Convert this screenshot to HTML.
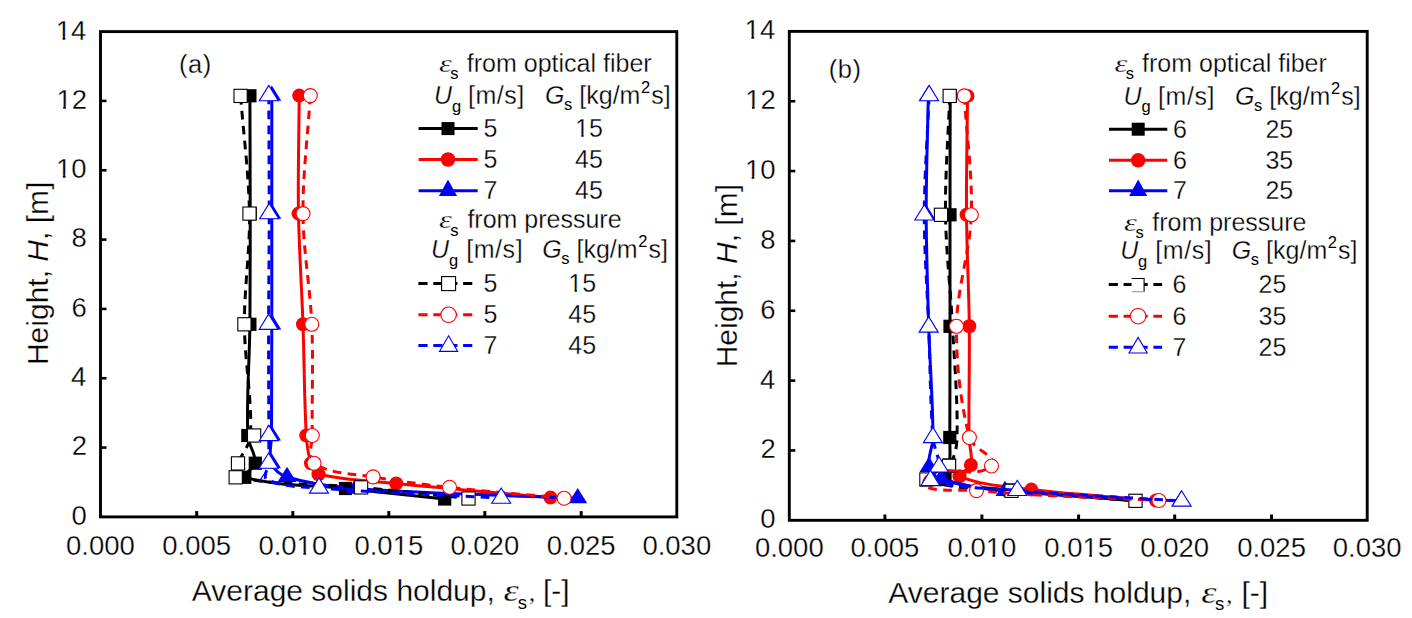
<!DOCTYPE html>
<html><head><meta charset="utf-8"><title>Solids holdup</title>
<style>html,body{margin:0;padding:0;background:#fff;}svg{display:block;}</style></head>
<body>
<svg width="1412" height="618" viewBox="0 0 1412 618" font-family='"Liberation Sans", sans-serif' fill="#000">
<rect width="1412" height="618" fill="#fff"/>
<style>text{stroke:#fff;stroke-width:0.3;}text.n{stroke:none;}</style>
<path d="M249.9,95.8 C250.0,135.1 250.2,174.3 250.2,213.6 C250.2,250.5 250.3,287.4 249.9,324.3 C249.5,361.4 246.4,398.5 247.8,435.5 C248.2,445.1 256.0,453.7 255.3,463.2 C254.9,469.0 239.2,475.7 244.8,477.3 C277.3,486.4 311.9,484.9 345.5,488.5 C378.6,492.1 411.6,495.5 444.7,499.0" fill="none" stroke="#000" stroke-width="3" stroke-linejoin="round"/>
<rect x="243.30" y="89.20" width="13.2" height="13.2" fill="#000"/>
<rect x="243.60" y="207.00" width="13.2" height="13.2" fill="#000"/>
<rect x="243.30" y="317.70" width="13.2" height="13.2" fill="#000"/>
<rect x="241.20" y="428.90" width="13.2" height="13.2" fill="#000"/>
<rect x="248.70" y="456.60" width="13.2" height="13.2" fill="#000"/>
<rect x="238.20" y="470.70" width="13.2" height="13.2" fill="#000"/>
<rect x="338.90" y="481.90" width="13.2" height="13.2" fill="#000"/>
<rect x="438.10" y="492.40" width="13.2" height="13.2" fill="#000"/>
<path d="M299.2,95.6 C299.0,134.9 297.8,174.3 298.5,213.6 C299.1,250.5 301.7,287.4 303.0,324.3 C304.3,361.4 304.2,398.5 306.3,435.5 C306.8,444.8 308.2,454.3 311.0,463.2 C312.3,467.5 314.2,473.3 318.5,474.3 C343.9,480.3 370.2,480.9 396.2,483.5 C447.6,488.7 499.1,492.9 550.5,497.6" fill="none" stroke="#f00" stroke-width="3" stroke-linejoin="round"/>
<circle cx="299.20" cy="95.60" r="7.0" fill="#f00"/>
<circle cx="298.50" cy="213.60" r="7.0" fill="#f00"/>
<circle cx="303.00" cy="324.30" r="7.0" fill="#f00"/>
<circle cx="306.30" cy="435.50" r="7.0" fill="#f00"/>
<circle cx="311.00" cy="463.20" r="7.0" fill="#f00"/>
<circle cx="318.50" cy="474.30" r="7.0" fill="#f00"/>
<circle cx="396.20" cy="483.50" r="7.0" fill="#f00"/>
<circle cx="550.50" cy="497.60" r="7.0" fill="#f00"/>
<path d="M271.8,95.6 C271.8,134.9 271.8,174.3 271.8,213.6 C271.8,250.5 271.8,287.4 271.8,324.3 C271.7,361.4 271.6,398.4 271.5,435.5 C271.5,444.7 268.3,454.6 271.5,463.2 C273.9,469.7 280.4,475.0 287.0,477.0 C309.2,483.7 332.4,486.9 355.5,488.6 C429.4,494.0 503.6,495.0 577.7,498.2" fill="none" stroke="#00f" stroke-width="3" stroke-linejoin="round"/>
<polygon points="271.80,85.40 281.30,100.70 262.30,100.70" fill="#00f"/>
<polygon points="271.80,203.40 281.30,218.70 262.30,218.70" fill="#00f"/>
<polygon points="271.80,314.10 281.30,329.40 262.30,329.40" fill="#00f"/>
<polygon points="271.50,425.30 281.00,440.60 262.00,440.60" fill="#00f"/>
<polygon points="271.50,453.00 281.00,468.30 262.00,468.30" fill="#00f"/>
<polygon points="287.00,466.80 296.50,482.10 277.50,482.10" fill="#00f"/>
<polygon points="355.50,478.40 365.00,493.70 346.00,493.70" fill="#00f"/>
<polygon points="577.70,488.00 587.20,503.30 568.20,503.30" fill="#00f"/>
<path d="M240.6,95.9 C243.6,135.1 248.8,174.3 249.5,213.6 C250.1,250.5 244.2,287.4 244.4,324.3 C244.6,361.4 252.2,398.4 250.5,435.5 C250.0,445.7 241.4,453.8 238.0,463.4 C236.4,467.8 231.1,476.4 235.7,477.3 C276.9,485.3 319.3,483.6 361.1,487.4 C396.9,490.7 432.7,494.8 468.5,498.5" fill="none" stroke="#000" stroke-width="3" stroke-linejoin="round" stroke-dasharray="8.7 6.3"/>
<rect x="234.00" y="89.30" width="13.2" height="13.2" fill="#fff" stroke="#000" stroke-width="1.1"/>
<rect x="242.90" y="207.00" width="13.2" height="13.2" fill="#fff" stroke="#000" stroke-width="1.1"/>
<rect x="237.80" y="317.70" width="13.2" height="13.2" fill="#fff" stroke="#000" stroke-width="1.1"/>
<rect x="247.50" y="428.90" width="13.2" height="13.2" fill="#fff" stroke="#000" stroke-width="1.1"/>
<rect x="231.40" y="456.80" width="13.2" height="13.2" fill="#fff" stroke="#000" stroke-width="1.1"/>
<rect x="229.10" y="470.70" width="13.2" height="13.2" fill="#fff" stroke="#000" stroke-width="1.1"/>
<rect x="354.50" y="480.80" width="13.2" height="13.2" fill="#fff" stroke="#000" stroke-width="1.1"/>
<rect x="461.90" y="491.90" width="13.2" height="13.2" fill="#fff" stroke="#000" stroke-width="1.1"/>
<path d="M310.3,95.6 C307.9,134.9 302.7,174.2 303.0,213.6 C303.2,250.6 310.2,287.3 311.8,324.3 C313.4,361.3 311.7,398.4 312.3,435.5 C312.4,444.7 306.4,458.0 314.0,463.2 C330.7,474.6 353.2,473.4 373.1,476.9 C398.4,481.4 424.0,484.5 449.5,487.3 C487.6,491.6 525.9,494.6 564.1,498.2" fill="none" stroke="#f00" stroke-width="3" stroke-linejoin="round" stroke-dasharray="8.7 6.3"/>
<circle cx="310.30" cy="95.60" r="7.0" fill="#fff" stroke="#f00" stroke-width="1.1"/>
<circle cx="303.00" cy="213.60" r="7.0" fill="#fff" stroke="#f00" stroke-width="1.1"/>
<circle cx="311.80" cy="324.30" r="7.0" fill="#fff" stroke="#f00" stroke-width="1.1"/>
<circle cx="312.30" cy="435.50" r="7.0" fill="#fff" stroke="#f00" stroke-width="1.1"/>
<circle cx="314.00" cy="463.20" r="7.0" fill="#fff" stroke="#f00" stroke-width="1.1"/>
<circle cx="373.10" cy="476.90" r="7.0" fill="#fff" stroke="#f00" stroke-width="1.1"/>
<circle cx="449.50" cy="487.30" r="7.0" fill="#fff" stroke="#f00" stroke-width="1.1"/>
<circle cx="564.10" cy="498.20" r="7.0" fill="#fff" stroke="#f00" stroke-width="1.1"/>
<path d="M268.8,95.6 C268.9,134.9 269.2,174.3 269.2,213.6 C269.2,250.5 268.7,287.4 268.6,324.3 C268.5,361.4 268.8,398.4 268.8,435.5 C268.8,444.7 269.0,454.0 268.6,463.2 C268.4,468.7 262.1,477.1 267.0,479.5 C282.8,487.3 301.5,486.6 319.0,488.0 C379.6,492.8 440.5,494.8 501.2,498.2" fill="none" stroke="#00f" stroke-width="3" stroke-linejoin="round" stroke-dasharray="8.7 6.3"/>
<polygon points="268.80,85.40 278.30,100.70 259.30,100.70" fill="#fff" stroke="#00f" stroke-width="1.1"/>
<polygon points="269.20,203.40 278.70,218.70 259.70,218.70" fill="#fff" stroke="#00f" stroke-width="1.1"/>
<polygon points="268.60,314.10 278.10,329.40 259.10,329.40" fill="#fff" stroke="#00f" stroke-width="1.1"/>
<polygon points="268.80,425.30 278.30,440.60 259.30,440.60" fill="#fff" stroke="#00f" stroke-width="1.1"/>
<polygon points="268.60,453.00 278.10,468.30 259.10,468.30" fill="#fff" stroke="#00f" stroke-width="1.1"/>
<polygon points="319.00,477.80 328.50,493.10 309.50,493.10" fill="#fff" stroke="#00f" stroke-width="1.1"/>
<polygon points="501.20,488.00 510.70,503.30 491.70,503.30" fill="#fff" stroke="#00f" stroke-width="1.1"/>
<path d="M266.6,470.2 L258.6,482.4" stroke="#00f" stroke-width="1.1" fill="none"/>
<path d="M950.2,95.9 C950.1,135.5 950.0,175.2 950.0,214.8 C950.0,252.0 950.0,289.1 950.0,326.3 C950.0,363.4 949.9,400.4 949.8,437.5 C949.8,446.7 950.5,455.9 949.5,465.0 C948.9,470.0 940.3,477.6 945.0,479.5 C965.3,487.9 988.2,487.6 1010.0,490.0 C1051.7,494.7 1093.7,497.2 1135.5,500.8" fill="none" stroke="#000" stroke-width="3" stroke-linejoin="round"/>
<rect x="943.60" y="89.30" width="13.2" height="13.2" fill="#000"/>
<rect x="943.40" y="208.20" width="13.2" height="13.2" fill="#000"/>
<rect x="943.40" y="319.70" width="13.2" height="13.2" fill="#000"/>
<rect x="943.20" y="430.90" width="13.2" height="13.2" fill="#000"/>
<rect x="942.90" y="458.40" width="13.2" height="13.2" fill="#000"/>
<rect x="938.40" y="472.90" width="13.2" height="13.2" fill="#000"/>
<rect x="1003.40" y="483.40" width="13.2" height="13.2" fill="#000"/>
<rect x="1128.90" y="494.20" width="13.2" height="13.2" fill="#000"/>
<path d="M967.5,95.9 C967.2,135.5 966.2,175.2 966.5,214.8 C966.8,252.0 968.9,289.1 969.3,326.3 C969.7,363.4 968.6,400.4 969.0,437.5 C969.1,446.7 973.1,456.1 970.9,465.0 C969.6,470.2 954.5,474.3 959.5,476.3 C982.0,485.5 1007.1,486.6 1031.3,489.6 C1072.7,494.7 1114.4,496.9 1156.0,500.5" fill="none" stroke="#f00" stroke-width="3" stroke-linejoin="round"/>
<circle cx="967.50" cy="95.90" r="7.0" fill="#f00"/>
<circle cx="966.50" cy="214.80" r="7.0" fill="#f00"/>
<circle cx="969.30" cy="326.30" r="7.0" fill="#f00"/>
<circle cx="969.00" cy="437.50" r="7.0" fill="#f00"/>
<circle cx="970.90" cy="465.00" r="7.0" fill="#f00"/>
<circle cx="959.50" cy="476.30" r="7.0" fill="#f00"/>
<circle cx="1031.30" cy="489.60" r="7.0" fill="#f00"/>
<circle cx="1156.00" cy="500.50" r="7.0" fill="#f00"/>
<path d="M928.3,95.9 C927.6,135.5 926.1,175.2 926.2,214.8 C926.3,252.0 927.6,289.1 928.7,326.3 C929.8,363.4 932.9,400.4 933.0,437.5 C933.0,447.4 927.1,457.3 929.0,467.0 C930.1,472.6 935.6,477.3 941.0,479.0 C961.7,485.5 983.4,489.0 1005.0,491.0 C1063.5,496.4 1122.3,497.7 1181.0,501.0" fill="none" stroke="#00f" stroke-width="3" stroke-linejoin="round"/>
<polygon points="928.30,85.70 937.80,101.00 918.80,101.00" fill="#00f"/>
<polygon points="926.20,204.60 935.70,219.90 916.70,219.90" fill="#00f"/>
<polygon points="928.70,316.10 938.20,331.40 919.20,331.40" fill="#00f"/>
<polygon points="933.00,427.30 942.50,442.60 923.50,442.60" fill="#00f"/>
<polygon points="929.00,456.80 938.50,472.10 919.50,472.10" fill="#00f"/>
<polygon points="941.00,468.80 950.50,484.10 931.50,484.10" fill="#00f"/>
<polygon points="1005.00,480.80 1014.50,496.10 995.50,496.10" fill="#00f"/>
<polygon points="1181.00,490.80 1190.50,506.10 1171.50,506.10" fill="#00f"/>
<path d="M949.7,95.9 C948.3,135.5 945.0,175.1 945.5,214.8 C946.0,252.0 950.6,289.1 952.5,326.3 C954.4,363.3 957.9,400.4 957.0,437.5 C956.8,447.3 954.8,457.9 949.0,465.8 C943.8,472.9 918.2,476.2 926.4,479.5 C953.0,490.1 983.0,487.9 1011.5,490.8 C1052.8,495.0 1094.2,497.5 1135.5,500.8" fill="none" stroke="#000" stroke-width="3" stroke-linejoin="round" stroke-dasharray="8.7 6.3"/>
<rect x="943.10" y="89.30" width="13.2" height="13.2" fill="#fff" stroke="#000" stroke-width="1.1"/>
<rect x="934.40" y="208.20" width="13.2" height="13.2" fill="#fff" stroke="#000" stroke-width="1.1"/>
<rect x="942.40" y="459.20" width="13.2" height="13.2" fill="#fff" stroke="#000" stroke-width="1.1"/>
<rect x="919.80" y="472.90" width="13.2" height="13.2" fill="#fff" stroke="#000" stroke-width="1.1"/>
<rect x="1004.90" y="484.20" width="13.2" height="13.2" fill="#fff" stroke="#000" stroke-width="1.1"/>
<rect x="1128.90" y="494.20" width="13.2" height="13.2" fill="#fff" stroke="#000" stroke-width="1.1"/>
<path d="M964.3,95.9 C966.6,135.5 972.6,175.1 971.3,214.8 C970.0,252.3 956.8,288.8 956.5,326.3 C956.2,363.6 960.3,401.3 969.4,437.5 C972.3,449.2 1000.3,457.8 991.5,466.0 C975.0,481.4 936.8,459.7 925.0,479.0 C915.8,494.0 959.0,489.0 976.5,490.6 C1037.2,496.2 1098.2,497.2 1159.0,500.5" fill="none" stroke="#f00" stroke-width="3" stroke-linejoin="round" stroke-dasharray="8.7 6.3"/>
<circle cx="964.30" cy="95.90" r="7.0" fill="#fff" stroke="#f00" stroke-width="1.1"/>
<circle cx="971.30" cy="214.80" r="7.0" fill="#fff" stroke="#f00" stroke-width="1.1"/>
<circle cx="956.50" cy="326.30" r="7.0" fill="#fff" stroke="#f00" stroke-width="1.1"/>
<circle cx="969.40" cy="437.50" r="7.0" fill="#fff" stroke="#f00" stroke-width="1.1"/>
<circle cx="991.50" cy="466.00" r="7.0" fill="#fff" stroke="#f00" stroke-width="1.1"/>
<circle cx="976.50" cy="490.60" r="7.0" fill="#fff" stroke="#f00" stroke-width="1.1"/>
<circle cx="1159.00" cy="500.50" r="7.0" fill="#fff" stroke="#f00" stroke-width="1.1"/>
<path d="M929.1,95.6 C927.5,135.4 924.4,175.1 924.3,214.9 C924.2,252.3 927.3,289.6 928.7,327.0 C930.1,363.8 930.2,400.7 932.9,437.5 C933.6,447.5 939.6,457.0 939.0,467.0 C938.7,472.3 925.3,479.0 930.4,480.5 C958.3,488.8 988.2,488.0 1017.3,490.4 C1072.0,494.9 1126.8,497.5 1181.6,501.0" fill="none" stroke="#00f" stroke-width="3" stroke-linejoin="round" stroke-dasharray="8.7 6.3"/>
<polygon points="929.10,85.40 938.60,100.70 919.60,100.70" fill="#fff" stroke="#00f" stroke-width="1.1"/>
<polygon points="924.30,204.70 933.80,220.00 914.80,220.00" fill="#fff" stroke="#00f" stroke-width="1.1"/>
<polygon points="928.70,316.80 938.20,332.10 919.20,332.10" fill="#fff" stroke="#00f" stroke-width="1.1"/>
<polygon points="932.90,427.30 942.40,442.60 923.40,442.60" fill="#fff" stroke="#00f" stroke-width="1.1"/>
<polygon points="939.00,456.80 948.50,472.10 929.50,472.10" fill="#fff" stroke="#00f" stroke-width="1.1"/>
<polygon points="930.40,470.30 939.90,485.60 920.90,485.60" fill="#fff" stroke="#00f" stroke-width="1.1"/>
<polygon points="1017.30,480.20 1026.80,495.50 1007.80,495.50" fill="#fff" stroke="#00f" stroke-width="1.1"/>
<polygon points="1181.60,490.80 1191.10,506.10 1172.10,506.10" fill="#fff" stroke="#00f" stroke-width="1.1"/>
<rect x="100.5" y="31.6" width="576.30" height="485.30" fill="none" stroke="#000" stroke-width="2.9"/>
<line x1="196.70" y1="516.90" x2="196.70" y2="511.10" stroke="#000" stroke-width="3"/>
<line x1="292.80" y1="516.90" x2="292.80" y2="511.10" stroke="#000" stroke-width="3"/>
<line x1="388.80" y1="516.90" x2="388.80" y2="511.10" stroke="#000" stroke-width="3"/>
<line x1="484.80" y1="516.90" x2="484.80" y2="511.10" stroke="#000" stroke-width="3"/>
<line x1="581.20" y1="516.90" x2="581.20" y2="511.10" stroke="#000" stroke-width="3"/>
<line x1="100.50" y1="447.57" x2="106.50" y2="447.57" stroke="#000" stroke-width="2.6"/>
<line x1="100.50" y1="378.24" x2="106.50" y2="378.24" stroke="#000" stroke-width="2.6"/>
<line x1="100.50" y1="308.91" x2="106.50" y2="308.91" stroke="#000" stroke-width="2.6"/>
<line x1="100.50" y1="239.59" x2="106.50" y2="239.59" stroke="#000" stroke-width="2.6"/>
<line x1="100.50" y1="170.26" x2="106.50" y2="170.26" stroke="#000" stroke-width="2.6"/>
<line x1="100.50" y1="100.93" x2="106.50" y2="100.93" stroke="#000" stroke-width="2.6"/>
<text x="66.09" y="554.60" font-size="27.5">0.000</text>
<text x="162.33" y="554.60" font-size="27.5">0.005</text>
<text x="258.39" y="554.60" font-size="27.5">0.010</text>
<rect x="297.91" y="551.65" width="5.47" height="3.65" fill="#fff"/>
<rect x="306.12" y="551.65" width="5.26" height="3.65" fill="#fff"/>
<text x="354.43" y="554.60" font-size="27.5">0.015</text>
<rect x="393.96" y="551.65" width="5.47" height="3.65" fill="#fff"/>
<rect x="402.16" y="551.65" width="5.26" height="3.65" fill="#fff"/>
<text x="450.39" y="554.60" font-size="27.5">0.020</text>
<text x="546.83" y="554.60" font-size="27.5">0.025</text>
<text x="642.39" y="554.60" font-size="27.5">0.030</text>
<text x="71.38" y="524.80" font-size="27.5">0</text>
<text x="71.69" y="455.47" font-size="27.5">2</text>
<text x="71.11" y="386.14" font-size="27.5">4</text>
<text x="71.51" y="316.81" font-size="27.5">6</text>
<text x="71.50" y="247.49" font-size="27.5">8</text>
<text x="56.09" y="178.16" font-size="27.5">10</text>
<rect x="57.38" y="175.20" width="5.47" height="3.65" fill="#fff"/>
<rect x="65.58" y="175.20" width="5.26" height="3.65" fill="#fff"/>
<text x="56.39" y="108.83" font-size="27.5">12</text>
<rect x="57.69" y="105.87" width="5.47" height="3.65" fill="#fff"/>
<rect x="65.89" y="105.87" width="5.26" height="3.65" fill="#fff"/>
<text x="55.82" y="39.50" font-size="27.5">14</text>
<rect x="57.11" y="36.55" width="5.47" height="3.65" fill="#fff"/>
<rect x="65.31" y="36.55" width="5.26" height="3.65" fill="#fff"/>
<rect x="789.3" y="31.4" width="577.90" height="488.90" fill="none" stroke="#000" stroke-width="2.9"/>
<line x1="884.90" y1="520.30" x2="884.90" y2="514.50" stroke="#000" stroke-width="3"/>
<line x1="981.90" y1="520.30" x2="981.90" y2="514.50" stroke="#000" stroke-width="3"/>
<line x1="1078.60" y1="520.30" x2="1078.60" y2="514.50" stroke="#000" stroke-width="3"/>
<line x1="1174.70" y1="520.30" x2="1174.70" y2="514.50" stroke="#000" stroke-width="3"/>
<line x1="1271.50" y1="520.30" x2="1271.50" y2="514.50" stroke="#000" stroke-width="3"/>
<line x1="789.30" y1="450.46" x2="795.30" y2="450.46" stroke="#000" stroke-width="2.6"/>
<line x1="789.30" y1="380.61" x2="795.30" y2="380.61" stroke="#000" stroke-width="2.6"/>
<line x1="789.30" y1="310.77" x2="795.30" y2="310.77" stroke="#000" stroke-width="2.6"/>
<line x1="789.30" y1="240.93" x2="795.30" y2="240.93" stroke="#000" stroke-width="2.6"/>
<line x1="789.30" y1="171.09" x2="795.30" y2="171.09" stroke="#000" stroke-width="2.6"/>
<line x1="789.30" y1="101.24" x2="795.30" y2="101.24" stroke="#000" stroke-width="2.6"/>
<text x="754.89" y="557.40" font-size="27.5">0.000</text>
<text x="850.53" y="557.40" font-size="27.5">0.005</text>
<text x="947.49" y="557.40" font-size="27.5">0.010</text>
<rect x="987.01" y="554.45" width="5.47" height="3.65" fill="#fff"/>
<rect x="995.22" y="554.45" width="5.26" height="3.65" fill="#fff"/>
<text x="1044.23" y="557.40" font-size="27.5">0.015</text>
<rect x="1083.76" y="554.45" width="5.47" height="3.65" fill="#fff"/>
<rect x="1091.96" y="554.45" width="5.26" height="3.65" fill="#fff"/>
<text x="1140.29" y="557.40" font-size="27.5">0.020</text>
<text x="1237.13" y="557.40" font-size="27.5">0.025</text>
<text x="1332.79" y="557.40" font-size="27.5">0.030</text>
<text x="760.18" y="528.20" font-size="27.5">0</text>
<text x="760.49" y="458.36" font-size="27.5">2</text>
<text x="759.91" y="388.51" font-size="27.5">4</text>
<text x="760.31" y="318.67" font-size="27.5">6</text>
<text x="760.30" y="248.83" font-size="27.5">8</text>
<text x="744.89" y="178.99" font-size="27.5">10</text>
<rect x="746.18" y="176.03" width="5.47" height="3.65" fill="#fff"/>
<rect x="754.38" y="176.03" width="5.26" height="3.65" fill="#fff"/>
<text x="745.19" y="109.14" font-size="27.5">12</text>
<rect x="746.49" y="106.19" width="5.47" height="3.65" fill="#fff"/>
<rect x="754.69" y="106.19" width="5.26" height="3.65" fill="#fff"/>
<text x="744.62" y="39.30" font-size="27.5">14</text>
<rect x="745.91" y="36.35" width="5.47" height="3.65" fill="#fff"/>
<rect x="754.11" y="36.35" width="5.26" height="3.65" fill="#fff"/>
<text x="191.84" y="601.30" font-size="30">Average solids holdup,</text>
<text transform="translate(503.57,601.30) scale(1.25,1)" font-size="31" font-family='"Liberation Serif", serif' font-style="italic">ε</text>
<text x="517.79" y="608.60" font-size="18.5" class="n">s</text>
<text x="528.84" y="601.30" font-size="26" font-family='"Liberation Serif", serif' font-style="italic">,</text>
<text x="542.96" y="601.30" font-size="30">[-]</text>
<text x="888.34" y="602.50" font-size="30">Average solids holdup,</text>
<text transform="translate(1201.17,602.50) scale(1.25,1)" font-size="31" font-family='"Liberation Serif", serif' font-style="italic">ε</text>
<text x="1214.89" y="609.80" font-size="18.5" class="n">s</text>
<text x="1225.94" y="602.50" font-size="26" font-family='"Liberation Serif", serif' font-style="italic">,</text>
<text x="1241.46" y="602.50" font-size="30">[-]</text>
<text transform="translate(48.0,362.6) rotate(-90)" font-size="30" x="-2.46">Height, <tspan font-style="italic">H</tspan>, [m]</text>
<text transform="translate(737.0,364.9) rotate(-90)" font-size="30" x="-2.46">Height, <tspan font-style="italic">H</tspan>, [m]</text>
<text x="179.12" y="73.30" font-size="25.5" letter-spacing="0.5">(a)</text>
<text x="828.82" y="77.80" font-size="25.5" letter-spacing="0.5">(b)</text>
<text transform="translate(439.00,72.20) scale(1.25,1)" font-size="26" font-family='"Liberation Serif", serif' font-style="italic">ε</text>
<text x="450.34" y="79.40" font-size="16.5" class="n">s</text>
<text x="466.85" y="72.20" font-size="25">from optical fiber</text>
<text x="433.93" y="103.90" font-size="25" font-style="italic">U</text>
<text x="451.91" y="111.70" font-size="16.5" class="n">g</text>
<text x="467.92" y="103.90" font-size="25" letter-spacing="0.55">[m/s]</text>
<text x="544.97" y="103.90" font-size="25" font-style="italic">G</text>
<text x="563.94" y="110.10" font-size="16.5" class="n">s</text>
<text x="579.32" y="103.90" font-size="25">[kg/m</text>
<text x="640.97" y="93.40" font-size="16.5" class="n">2</text>
<text x="651.20" y="103.90" font-size="25">s]</text>
<line x1="418.6" y1="128.6" x2="477.7" y2="128.6" stroke="#000" stroke-width="3"/>
<rect x="441.50" y="122.10" width="13" height="13" fill="#000"/>
<text x="483.40" y="137.20" font-size="25">5</text>
<text x="575.04" y="137.20" font-size="25">15</text>
<rect x="576.15" y="134.43" width="5.03" height="3.47" fill="#fff"/>
<rect x="583.69" y="134.43" width="4.84" height="3.47" fill="#fff"/>
<line x1="418.6" y1="159.5" x2="477.7" y2="159.5" stroke="#f00" stroke-width="3"/>
<circle cx="448.00" cy="159.50" r="7.25" fill="#f00"/>
<text x="483.40" y="168.10" font-size="25">5</text>
<text x="575.04" y="168.10" font-size="25">45</text>
<line x1="418.6" y1="190.8" x2="477.7" y2="190.8" stroke="#00f" stroke-width="3"/>
<polygon points="448.00,179.50 457.10,196.00 438.90,196.00" fill="#00f"/>
<text x="483.40" y="199.40" font-size="25">7</text>
<text x="575.04" y="199.40" font-size="25">45</text>
<text transform="translate(439.00,228.30) scale(1.25,1)" font-size="26" font-family='"Liberation Serif", serif' font-style="italic">ε</text>
<text x="450.34" y="235.50" font-size="16.5" class="n">s</text>
<text x="467.40" y="228.30" font-size="25">from pressure</text>
<text x="431.03" y="257.70" font-size="25" font-style="italic">U</text>
<text x="449.01" y="265.50" font-size="16.5" class="n">g</text>
<text x="466.22" y="257.70" font-size="25" letter-spacing="0.55">[m/s]</text>
<text x="542.17" y="257.70" font-size="25" font-style="italic">G</text>
<text x="561.14" y="263.90" font-size="16.5" class="n">s</text>
<text x="576.52" y="257.70" font-size="25">[kg/m</text>
<text x="638.17" y="247.20" font-size="16.5" class="n">2</text>
<text x="648.40" y="257.70" font-size="25">s]</text>
<line x1="418.4" y1="283.6" x2="472.6" y2="283.6" stroke="#000" stroke-width="3" stroke-dasharray="9.2 5.7"/>
<rect x="441.60" y="276.60" width="14" height="14" fill="#fff" stroke="#000" stroke-width="1.1"/>
<text x="483.40" y="292.20" font-size="25">5</text>
<text x="568.34" y="292.20" font-size="25">15</text>
<rect x="569.45" y="289.43" width="5.03" height="3.47" fill="#fff"/>
<rect x="576.99" y="289.43" width="4.84" height="3.47" fill="#fff"/>
<line x1="418.4" y1="314.8" x2="472.6" y2="314.8" stroke="#f00" stroke-width="3" stroke-dasharray="9.2 5.7"/>
<circle cx="448.60" cy="314.80" r="7.75" fill="#fff" stroke="#f00" stroke-width="1.1"/>
<text x="483.40" y="323.40" font-size="25">5</text>
<text x="568.34" y="323.40" font-size="25">45</text>
<line x1="418.4" y1="345.6" x2="472.6" y2="345.6" stroke="#00f" stroke-width="3" stroke-dasharray="9.2 5.7"/>
<polygon points="448.60,335.80 457.70,351.40 439.50,351.40" fill="#fff" stroke="#00f" stroke-width="1.1"/>
<text x="483.40" y="354.20" font-size="25">7</text>
<text x="568.34" y="354.20" font-size="25">45</text>
<text transform="translate(1114.50,72.20) scale(1.25,1)" font-size="26" font-family='"Liberation Serif", serif' font-style="italic">ε</text>
<text x="1125.84" y="79.40" font-size="16.5" class="n">s</text>
<text x="1142.05" y="72.20" font-size="25">from optical fiber</text>
<text x="1123.53" y="104.50" font-size="25" font-style="italic">U</text>
<text x="1141.51" y="112.30" font-size="16.5" class="n">g</text>
<text x="1158.12" y="104.50" font-size="25" letter-spacing="0.55">[m/s]</text>
<text x="1234.97" y="104.50" font-size="25" font-style="italic">G</text>
<text x="1253.94" y="110.70" font-size="16.5" class="n">s</text>
<text x="1269.32" y="104.50" font-size="25">[kg/m</text>
<text x="1330.97" y="94.00" font-size="16.5" class="n">2</text>
<text x="1341.20" y="104.50" font-size="25">s]</text>
<line x1="1109" y1="129.2" x2="1167.3" y2="129.2" stroke="#000" stroke-width="3"/>
<rect x="1131.70" y="122.70" width="13" height="13" fill="#000"/>
<text x="1172.93" y="137.80" font-size="25">6</text>
<text x="1265.44" y="137.80" font-size="25">25</text>
<line x1="1109" y1="160.3" x2="1167.3" y2="160.3" stroke="#f00" stroke-width="3"/>
<circle cx="1138.20" cy="160.30" r="7.25" fill="#f00"/>
<text x="1172.93" y="168.90" font-size="25">6</text>
<text x="1265.44" y="168.90" font-size="25">35</text>
<line x1="1109" y1="190.8" x2="1167.3" y2="190.8" stroke="#00f" stroke-width="3"/>
<polygon points="1138.20,179.50 1147.30,196.00 1129.10,196.00" fill="#00f"/>
<text x="1172.93" y="199.40" font-size="25">7</text>
<text x="1265.44" y="199.40" font-size="25">25</text>
<text transform="translate(1124.10,230.60) scale(1.25,1)" font-size="26" font-family='"Liberation Serif", serif' font-style="italic">ε</text>
<text x="1135.44" y="237.80" font-size="16.5" class="n">s</text>
<text x="1152.25" y="230.60" font-size="25">from pressure</text>
<text x="1120.13" y="258.90" font-size="25" font-style="italic">U</text>
<text x="1138.11" y="266.70" font-size="16.5" class="n">g</text>
<text x="1155.32" y="258.90" font-size="25" letter-spacing="0.55">[m/s]</text>
<text x="1231.77" y="258.90" font-size="25" font-style="italic">G</text>
<text x="1250.74" y="265.10" font-size="16.5" class="n">s</text>
<text x="1266.12" y="258.90" font-size="25">[kg/m</text>
<text x="1327.77" y="248.40" font-size="16.5" class="n">2</text>
<text x="1338.00" y="258.90" font-size="25">s]</text>
<line x1="1108.7" y1="284.5" x2="1162.1" y2="284.5" stroke="#000" stroke-width="3" stroke-dasharray="9.2 5.7"/>
<rect x="1131.60" y="278.50" width="12.50" height="13.20" fill="#fff"/>
<path d="M1131.60,278.50 H1144.10 V291.70" fill="none" stroke="#000" stroke-width="1.1"/>
<path d="M1144.10,291.70 H1131.60" fill="none" stroke="#999" stroke-width="1.1"/>
<text x="1172.53" y="293.10" font-size="25">6</text>
<text x="1258.54" y="293.10" font-size="25">25</text>
<line x1="1108.7" y1="316.2" x2="1162.1" y2="316.2" stroke="#f00" stroke-width="3" stroke-dasharray="9.2 5.7"/>
<circle cx="1138.10" cy="316.20" r="7.75" fill="#fff" stroke="#f00" stroke-width="1.1"/>
<text x="1172.53" y="324.80" font-size="25">6</text>
<text x="1258.54" y="324.80" font-size="25">35</text>
<line x1="1108.7" y1="347.2" x2="1162.1" y2="347.2" stroke="#00f" stroke-width="3" stroke-dasharray="9.2 5.7"/>
<polygon points="1138.10,337.40 1147.20,353.00 1129.00,353.00" fill="#fff" stroke="#00f" stroke-width="1.1"/>
<text x="1172.53" y="355.80" font-size="25">7</text>
<text x="1258.54" y="355.80" font-size="25">25</text>
</svg>
</body></html>
